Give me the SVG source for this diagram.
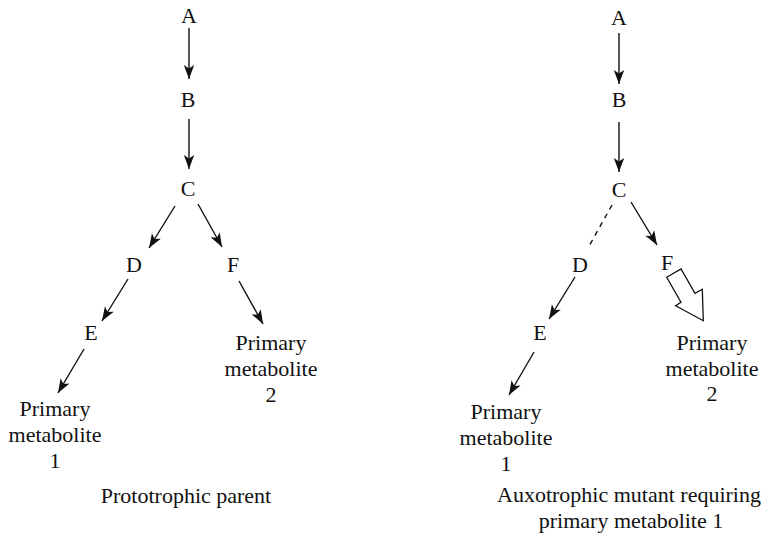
<svg xmlns="http://www.w3.org/2000/svg" width="766" height="535" viewBox="0 0 766 535">
  <style>
    text { font-family: "Liberation Serif", "Times New Roman", serif; font-size: 22px; fill: #111; text-anchor: middle; }
    .conn { stroke: #111; stroke-width: 1.4; fill: none; }
    .arr { marker-end: url(#head); }
    .dash { stroke-dasharray: 5 5; }
    .block { stroke: #111; stroke-width: 1.3; fill: #fff; stroke-linejoin: miter; }
  </style>
  <defs>
    <marker id="head" markerUnits="userSpaceOnUse" markerWidth="16" markerHeight="12" viewBox="-15 -6 16 12" refX="0" refY="0" orient="auto">
      <path d="M0,0 L-14,-5.2 L-10.5,0 L-14,5.2 Z" fill="#111"/>
    </marker>
  </defs>
  <rect width="766" height="535" fill="#fff"/>

  <!-- connectors -->
  <g id="connectors">
    <!-- prototrophic parent -->
    <line class="conn arr" x1="189" y1="28" x2="189" y2="79"/>
    <line class="conn arr" x1="189" y1="119" x2="189" y2="169"/>
    <line class="conn arr" x1="175" y1="206" x2="149" y2="248"/>
    <line class="conn arr" x1="198" y1="204" x2="222" y2="247"/>
    <line class="conn arr" x1="128" y1="279" x2="102" y2="321"/>
    <line class="conn arr" x1="84" y1="349" x2="58" y2="393"/>
    <line class="conn arr" x1="239" y1="281" x2="263" y2="324"/>
    <!-- auxotrophic mutant -->
    <line class="conn arr" x1="619" y1="33" x2="619" y2="84"/>
    <line class="conn arr" x1="619" y1="122" x2="619" y2="172"/>
    <line class="conn dash" x1="612" y1="205" x2="588" y2="248"/>
    <line class="conn arr" x1="631" y1="202" x2="657" y2="245"/>
    <line class="conn arr" x1="575" y1="277" x2="549" y2="319"/>
    <line class="conn arr" x1="534" y1="352" x2="509" y2="395"/>
    <polygon class="block" points="666.7,277.3 681,269 695,293.3 702.3,289.3 703.3,320.7 675.7,305.7 681,302.3"/>
  </g>

  <!-- prototrophic parent nodes -->
  <g id="p-A"><text x="189" y="23">A</text></g>
  <g id="p-B"><text x="188" y="107">B</text></g>
  <g id="p-C"><text x="188" y="196">C</text></g>
  <g id="p-D"><text x="134" y="272">D</text></g>
  <g id="p-F"><text x="233" y="272">F</text></g>
  <g id="p-E"><text x="91" y="340">E</text></g>
  <g id="p-PM1">
    <text x="55" y="416">Primary</text>
    <text x="55" y="442">metabolite</text>
    <text x="55" y="468">1</text>
  </g>
  <g id="p-PM2">
    <text x="271" y="350">Primary</text>
    <text x="271" y="376">metabolite</text>
    <text x="271" y="402">2</text>
  </g>
  <g id="p-label"><text x="186" y="503">Prototrophic parent</text></g>

  <!-- auxotrophic mutant nodes -->
  <g id="m-A"><text x="619" y="25">A</text></g>
  <g id="m-B"><text x="619" y="107">B</text></g>
  <g id="m-C"><text x="619" y="197">C</text></g>
  <g id="m-D"><text x="580" y="272">D</text></g>
  <g id="m-F"><text x="667" y="270">F</text></g>
  <g id="m-E"><text x="540" y="340">E</text></g>
  <g id="m-PM1">
    <text x="506" y="419">Primary</text>
    <text x="506" y="445">metabolite</text>
    <text x="506" y="471">1</text>
  </g>
  <g id="m-PM2">
    <text x="712" y="350">Primary</text>
    <text x="712" y="376">metabolite</text>
    <text x="712" y="401">2</text>
  </g>
  <g id="m-label">
    <text x="629" y="502">Auxotrophic mutant requiring</text>
    <text x="631" y="528">primary metabolite 1</text>
  </g>
</svg>
